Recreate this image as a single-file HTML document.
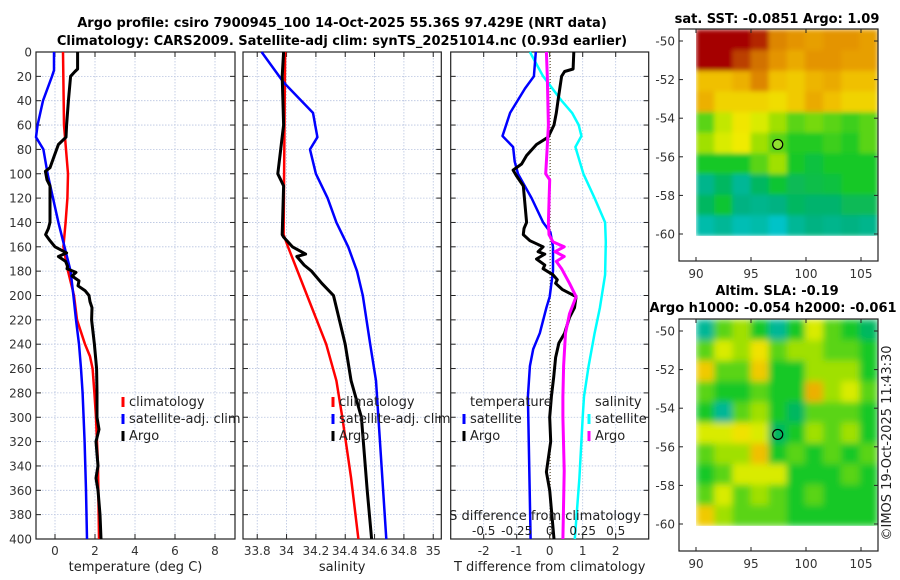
<!DOCTYPE html>
<html><head><meta charset="utf-8"><style>
html,body{margin:0;padding:0;background:#fff;}
svg{display:block;font-family:"DejaVu Sans","Liberation Sans",sans-serif;}
</style></head><body>
<svg id="fig" width="900" height="580" viewBox="0 0 900 580" xmlns="http://www.w3.org/2000/svg">
<rect x="0" y="0" width="900" height="580" fill="#fff"/>
<text x="342" y="27" text-anchor="middle" font-size="13" font-weight="bold">Argo profile: csiro 7900945_100 14-Oct-2025 55.36S 97.429E (NRT data)</text>
<text x="342" y="45" text-anchor="middle" font-size="13" font-weight="bold">Climatology: CARS2009. Satellite-adj clim: synTS_20251014.nc (0.93d earlier)</text>
<text x="777" y="23" text-anchor="middle" font-size="13" font-weight="bold">sat. SST: -0.0851 Argo: 1.09</text>
<text x="777" y="295" text-anchor="middle" font-size="13" font-weight="bold">Altim. SLA: -0.19</text>
<text x="773" y="312" text-anchor="middle" font-size="13" font-weight="bold">Argo h1000: -0.054 h2000: -0.061</text>
<text transform="translate(891,443) rotate(-90)" text-anchor="middle" font-size="13" fill="#222">©IMOS 19-Oct-2025 11:43:30</text>
<g id="plots"></g>
</svg>
<script>
// ---- profile data (depth in dbar) ----
const depthTicks=[0,20,40,60,80,100,120,140,160,180,200,220,240,260,280,300,320,340,360,380,400];
// Panel 1: temperature
const tClimD=[0,60,100,120,140,160,180,200,220,240,250,260,280,300,340,400];
const tClimV=[0.4,0.45,0.65,0.62,0.53,0.42,0.65,0.95,1.1,1.5,1.75,1.88,1.97,2.05,2.15,2.2];
const tSatD=[0,15,20,40,60,70,80,100,140,180,200,220,240,260,280,320,360,400];
const tSatV=[-0.05,-0.05,-0.15,-0.6,-0.87,-0.95,-0.58,-0.37,0.17,0.78,0.92,1.05,1.2,1.3,1.38,1.48,1.55,1.6];
const tArgoD=[0,14,16,20,40,60,70,76,85,95,98,105,110,140,145,150,155,160,165,168,172,176,178,181,184,188,192,196,200,205,210,220,240,260,280,300,310,320,340,350,360,380,400];
const tArgoV=[1.13,1.13,1.0,0.78,0.67,0.58,0.55,0.17,-0.03,-0.25,-0.48,-0.4,-0.25,-0.25,-0.33,-0.47,-0.25,0,0.58,0.17,0.53,0.63,0.6,1.05,0.85,1.2,1.15,1.5,1.7,1.75,1.85,1.83,1.97,2.08,2.1,2.1,2.2,2.05,2.15,2.05,2.15,2.25,2.3];
// Panel 2: salinity
const sClimD=[0,150,160,200,240,270,300,350,400];
const sClimV=[33.99,33.98,34.01,34.14,34.27,34.34,34.38,34.44,34.49];
const sSatD=[0,25,50,70,80,100,120,140,160,180,200,240,270,400];
const sSatV=[33.83,33.98,34.18,34.21,34.16,34.2,34.28,34.34,34.42,34.48,34.52,34.57,34.61,34.68];
const sArgoD=[0,20,60,80,100,105,110,150,152,160,166,168,175,180,190,200,240,270,300,330,360,400];
const sArgoV=[33.98,33.97,33.98,33.96,33.94,33.96,33.98,33.97,33.98,34.04,34.13,34.07,34.12,34.17,34.24,34.32,34.4,34.44,34.51,34.53,34.55,34.58];
// Panel 3: differences from climatology (T in degC, S in psu)
const dTSatD=[0,20,30,50,69,78,90,100,120,140,148,160,180,201,210,231,244,258,283,300,400];
const dTSatV=[-0.42,-0.48,-0.75,-1.2,-1.43,-1.11,-1.06,-0.96,-0.55,-0.2,0.02,0.1,0.1,0,-0.1,-0.3,-0.5,-0.6,-0.66,-0.65,-0.58];
const dTArgoD=[0,14,16,20,40,50,60,70,76,85,92,97,102,110,140,145,150,155,160,164,166,170,175,178,183,187,190,195,201,210,218,231,239,251,267,283,300,320,345,360,400];
const dTArgoV=[0.73,0.71,0.45,0.36,0.25,0.2,0.13,-0.05,-0.4,-0.7,-0.85,-1.11,-1.0,-0.8,-0.7,-0.78,-0.8,-0.6,-0.2,-0.35,-0.15,-0.4,-0.15,-0.2,0.1,0.23,0.18,0.38,0.8,0.75,0.6,0.45,0.28,0.18,0.12,0.05,0,0.03,-0.1,0,0.13];
const dSArgoD=[0,20,60,80,100,105,140,150,156,160,164,168,172,178,182,190,201,215,231,258,283,300,344,400];
const dSArgoV=[-0.025,-0.018,-0.01,-0.02,-0.03,0,-0.01,-0.005,0.025,0.11,0.04,0.11,0.05,0.09,0.11,0.15,0.2,0.15,0.12,0.105,0.1,0.1,0.11,0.1];
const dSSatD=[0,20,40,50,60,69,78,100,120,140,156,183,210,231,258,283,300,350,400];
const dSSatV=[-0.15,-0.05,0.09,0.17,0.22,0.24,0.195,0.255,0.34,0.42,0.425,0.42,0.38,0.34,0.295,0.26,0.25,0.225,0.19];
// ---- maps ----
const mapLons=[90,91.65,93.3,94.95,96.6,98.25,99.9,101.55,103.2,104.85,106.5];
const mapLats=[-49.4,-50.47,-51.54,-52.61,-53.68,-54.75,-55.82,-56.89,-57.96,-59.03,-60.1];
const sstRows=[
[1.0,1.0,1.0,0.95,0.82,0.8,0.78,0.8,0.8,0.78],
[1.0,1.0,0.92,0.85,0.8,0.76,0.8,0.8,0.78,0.78],
[0.72,0.72,0.75,0.82,0.72,0.7,0.74,0.76,0.72,0.72],
[0.75,0.68,0.68,0.68,0.66,0.7,0.76,0.72,0.68,0.68],
[0.5,0.58,0.64,0.6,0.55,0.5,0.52,0.5,0.48,0.5],
[0.55,0.6,0.63,0.55,0.5,0.46,0.46,0.48,0.46,0.5],
[0.45,0.45,0.45,0.5,0.55,0.45,0.43,0.45,0.45,0.45],
[0.36,0.4,0.35,0.4,0.44,0.41,0.42,0.43,0.45,0.45],
[0.4,0.44,0.37,0.36,0.37,0.4,0.39,0.39,0.41,0.41],
[0.33,0.35,0.32,0.33,0.3,0.35,0.37,0.36,0.37,0.36]];
const slaRows=[
[0.35,0.5,0.55,0.45,0.35,0.45,0.6,0.5,0.45,0.4],
[0.5,0.6,0.55,0.65,0.5,0.55,0.55,0.5,0.5,0.45],
[0.7,0.5,0.5,0.7,0.45,0.45,0.55,0.55,0.55,0.45],
[0.5,0.45,0.45,0.5,0.45,0.45,0.75,0.55,0.6,0.5],
[0.45,0.35,0.5,0.55,0.45,0.4,0.5,0.5,0.5,0.45],
[0.6,0.6,0.65,0.6,0.4,0.45,0.55,0.5,0.55,0.45],
[0.5,0.55,0.55,0.72,0.45,0.5,0.45,0.5,0.45,0.5],
[0.45,0.5,0.6,0.6,0.6,0.45,0.45,0.45,0.5,0.45],
[0.5,0.6,0.5,0.55,0.5,0.45,0.5,0.45,0.45,0.45],
[0.7,0.55,0.5,0.5,0.5,0.45,0.45,0.45,0.45,0.45]];
const argoLon=97.429, argoLat=-55.36;
const mapLatTicks=[-50,-52,-54,-56,-58,-60];
const mapLonTicks=[90,95,100,105];

const NS='http://www.w3.org/2000/svg';
const root=document.getElementById('plots');
function el(tag,attrs,parent,txt){const e=document.createElementNS(NS,tag);for(const k in attrs)e.setAttribute(k,attrs[k]);if(txt!==undefined)e.textContent=txt;(parent||root).appendChild(e);return e;}
const Y0=52,Y1=539;
const yD=d=>Y0+(d/400)*(Y1-Y0);

function panel(name,x0,x1,xmin,xmax,xticks,xlabel,showY){
  const sx=v=>x0+(v-xmin)/(xmax-xmin)*(x1-x0);
  const g=el('g',{});
  
  
  xticks.forEach(t=>{const x=sx(t);
    const l=el('line',{x1:x,x2:x,y1:Y0,y2:Y1,stroke:'#b8c4e0','stroke-width':0.8,'stroke-dasharray':'1.5,1.5'},g);
    
    el('line',{x1:x,x2:x,y1:Y1,y2:Y1-5,stroke:'#222'},g);
    el('line',{x1:x,x2:x,y1:Y0,y2:Y0+5,stroke:'#222'},g);
    const tl=el('text',{x:x,y:Y1+16,'text-anchor':'middle','font-size':12,fill:'#333'},g,String(t));
    
  });
  depthTicks.forEach(d=>{const y=yD(d);
    if(d>0&&d<400){const l=el('line',{x1:x0,x2:x1,y1:y,y2:y,stroke:'#b8c4e0','stroke-width':0.8,'stroke-dasharray':'1.5,1.5'},g);
      }
    el('line',{x1:x0,x2:x0+5,y1:y,y2:y,stroke:'#222'},g);
    el('line',{x1:x1,x2:x1-5,y1:y,y2:y,stroke:'#222'},g);
    if(showY){const tl=el('text',{x:x0-4,y:y+4.5,'text-anchor':'end','font-size':12,fill:'#333'},g,String(d));
      }
  });
  const fr=el('rect',{x:x0,y:Y0,width:x1-x0,height:Y1-Y0,fill:'none',stroke:'#222','stroke-width':1.2},g);
  
  const xl=el('text',{x:(x0+x1)/2,y:571,'text-anchor':'middle','font-size':13,fill:'#222'},g,xlabel);
  
  return {g,sx};
}
function line(p,D,V,color,name,w,scale){
  const pts=D.map((d,i)=>p.sx(V[i]*(scale||1)).toFixed(1)+','+yD(d).toFixed(1)).join(' ');
  const l=el('polyline',{points:pts,fill:'none',stroke:color,'stroke-width':w||3,'stroke-linejoin':'round'},p.g);
  
  
}
function legend(g,x,y,color,label,name){
  const m=el('line',{x1:x,x2:x,y1:y-9,y2:y+1,stroke:color,'stroke-width':3},g);
  
  
  const t=el('text',{x:x+6,y:y,'font-size':13,fill:'#222'},g,label);
  
  
}
const P1=panel('temperature-panel',36,235,-0.95,9,[0,2,4,6,8],'temperature (deg C)',true);
line(P1,tClimD,tClimV,'#ff0000','temp-climatology-line',2.5);
line(P1,tSatD,tSatV,'#0000ff','temp-satellite-line',2.5);
line(P1,tArgoD,tArgoV,'#000','temp-argo-line',3);
legend(P1.g,123,406,'#ff0000','climatology','legend-climatology');
legend(P1.g,123,423,'#0000ff','satellite-adj. clim','legend-satellite');
legend(P1.g,123,440,'#000','Argo','legend-argo');

const P2=panel('salinity-panel',243,441.3,33.703,35.055,[33.8,34,34.2,34.4,34.6,34.8,35],'salinity',false);
line(P2,sClimD,sClimV,'#ff0000','sal-climatology-line',2.5);
line(P2,sSatD,sSatV,'#0000ff','sal-satellite-line',2.5);
line(P2,sArgoD,sArgoV,'#000','sal-argo-line',3);
legend(P2.g,333,406,'#ff0000','climatology','legend-climatology');
legend(P2.g,333,423,'#0000ff','satellite-adj. clim','legend-satellite');
legend(P2.g,333,440,'#000','Argo','legend-argo');

const P3=panel('difference-panel',450.7,648.7,-3,3,[-2,-1,0,1,2],'T difference from climatology',false);
const z=el('line',{x1:P3.sx(0)+0.5,x2:P3.sx(0)+0.5,y1:Y0,y2:Y1,stroke:'#554422','stroke-width':1,'stroke-dasharray':'1,2'},P3.g);

line(P3,dSSatD,dSSatV,'#00ffff','sdiff-satellite-line',2.5,4);
line(P3,dTSatD,dTSatV,'#0000ff','tdiff-satellite-line',2.5);
line(P3,dTArgoD,dTArgoV,'#000','tdiff-argo-line',3);
line(P3,dSArgoD,dSArgoV,'#ff00ff','sdiff-argo-line',3,4);
let t=el('text',{x:470,y:406,'font-size':13,fill:'#222'},P3.g,'temperature');

legend(P3.g,464,423,'#0000ff','satellite','legend-t-satellite');
legend(P3.g,464,440,'#000','Argo','legend-t-argo');
t=el('text',{x:595,y:406,'font-size':13,fill:'#222'},P3.g,'salinity');

legend(P3.g,589,423,'#00ffff','satellite','legend-s-satellite');
legend(P3.g,589,440,'#ff00ff','Argo','legend-s-argo');
t=el('text',{x:545,y:520,'text-anchor':'middle','font-size':13,fill:'#222'},P3.g,'S difference from climatology');

[-0.5,-0.25,0,0.25,0.5].forEach(s=>{
  const tl=el('text',{x:P3.sx(s*4),y:535,'text-anchor':'middle','font-size':12,fill:'#222'},P3.g,String(s));
  
});

// ---- maps ----
const stops=[[0.28,[0,200,220]],[0.38,[0,176,120]],[0.45,[20,200,40]],[0.55,[160,224,0]],[0.62,[240,240,0]],[0.72,[240,192,0]],[0.8,[228,148,0]],[0.9,[192,80,0]],[1.0,[165,0,0]]];
function cmap(v){if(v<=stops[0][0])return 'rgb('+stops[0][1]+')';
  for(let i=1;i<stops.length;i++){if(v<=stops[i][0]){const a=stops[i-1],b=stops[i],f=(v-a[0])/(b[0]-a[0]);
    return 'rgb('+a[1].map((c,k)=>Math.round(c+(b[1][k]-c)*f)).join(',')+')';}}
  return 'rgb(165,0,0)';}
function map(name,boxY0,boxY1,lat50Y,rows,blur,fillDot){
  const bx0=679,bx1=878;
  const sx=lon=>696+(lon-90)*11;
  const sy=lat=>lat50Y+(-50-lat)*19.3;
  const g=el('g',{});
  
  
  const defs=el('defs',{},g);
  const f=el('filter',{id:name+'-blur',x:'-5%',y:'-5%',width:'110%',height:'110%'},defs);
  el('feGaussianBlur',{stdDeviation:blur},f);
  const cp=el('clipPath',{id:name+'-clip'},defs);
  el('rect',{x:sx(90),y:sy(-49.4),width:sx(106.5)-sx(90),height:sy(-60.1)-sy(-49.4)},cp);
  const clipG=el('g',{'clip-path':'url(#'+name+'-clip)'},g);
  const cells=el('g',{filter:'url(#'+name+'-blur)'},clipG);
  rows.forEach((row,r)=>row.forEach((v,c)=>{
    const x=sx(mapLons[c]),y=sy(mapLats[r]);
    const rc=el('rect',{x:x,y:y,width:sx(mapLons[c+1])-x+0.5,height:sy(mapLats[r+1])-y+0.5,fill:cmap(v)},cells);
    
    
  }));
  const fr=el('rect',{x:bx0,y:boxY0,width:bx1-bx0,height:boxY1-boxY0,fill:'none',stroke:'#222','stroke-width':1.2},g);
  
  mapLatTicks.forEach(lat=>{const y=sy(lat);
    el('line',{x1:bx0,x2:bx0+4,y1:y,y2:y,stroke:'#222'},g);
    el('line',{x1:bx1,x2:bx1-4,y1:y,y2:y,stroke:'#222'},g);
    const tl=el('text',{x:bx0-4,y:y+4.5,'text-anchor':'end','font-size':12,fill:'#333'},g,String(lat));
    });
  mapLonTicks.forEach(lon=>{const x=sx(lon);
    el('line',{x1:x,x2:x,y1:boxY1,y2:boxY1-4,stroke:'#222'},g);
    el('line',{x1:x,x2:x,y1:boxY0,y2:boxY0+4,stroke:'#222'},g);
    const tl=el('text',{x:x,y:boxY1+17,'text-anchor':'middle','font-size':12,fill:'#333'},g,String(lon));
    });
  const c=el('circle',{cx:sx(argoLon),cy:sy(argoLat),r:5,fill:fillDot?'#90e030':'none',stroke:'#000','stroke-width':1.2},g);
  
  
}
map('sst-map',29,261,41,sstRows,2.5,true);
map('sla-map',319,551,331,slaRows,3.5,false);
</script>
</body></html>
